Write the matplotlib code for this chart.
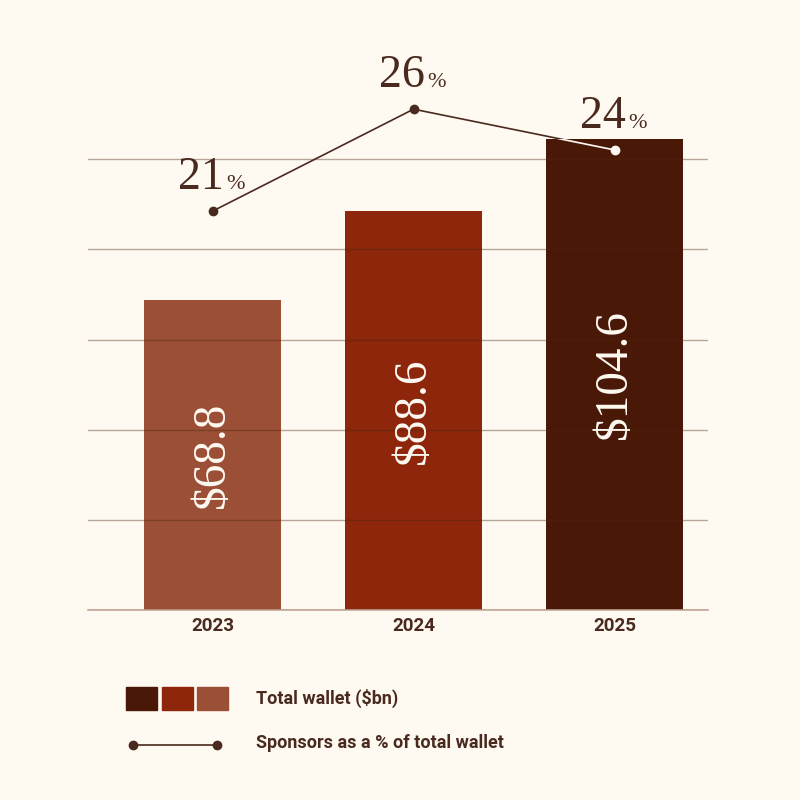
import matplotlib.pyplot as plt
from matplotlib.patches import Rectangle
from matplotlib.lines import Line2D

# data
years = ['2023', '2024', '2025']
wallet = [68.8, 88.6, 104.6]          # total wallet, $bn
sponsor_pct = [21, 26, 24]            # sponsors as % of total wallet
bar_colors = ['#9b4f36', '#8e260c', '#4a1807']

bg = '#fefaf2'
ink = '#4a2a1e'
grid_col = '#4a2a10'
serif = 'Liberation Serif'
sans = 'Roboto'


def plot_wallet():
    fig = plt.figure(figsize=(8, 8), dpi=100, facecolor=bg)
    ax = fig.add_axes([0.11, 0.2375, 0.775, 0.676])
    ax.set_facecolor('none')
    x = list(range(len(years)))

    bars = ax.bar(x, wallet, width=0.68, color=bar_colors, zorder=1)
    ax.set_xlim(-0.62, 2.465)
    ax.set_ylim(0, 120)
    ax.set_yticks([0, 20, 40, 60, 80, 100])
    ax.yaxis.grid(True, color=grid_col, linewidth=1, alpha=0.4, zorder=2)
    ax.axhline(0, color='#c4a898', linewidth=1.2, zorder=2, clip_on=False)
    ax.set_axisbelow(False)
    for s in ax.spines.values():
        s.set_visible(False)

    for xi, v in zip(x, wallet):
        ax.text(xi, v / 2, f'${v}', rotation=90, ha='center', va='center',
                fontfamily=serif, fontsize=34, color=bg, zorder=3)

    # share line on its own scale
    ax2 = ax.twinx()
    ax2.set_ylim(1.44, 27.96)
    ax2.axis('off')
    ax2.plot(x, sponsor_pct, color=ink, linewidth=1.2, marker='o', markersize=6, zorder=4)
    white = ax2.plot(x, sponsor_pct, color=bg, linewidth=1.2, marker='o', markersize=6, zorder=5)[0]
    white.set_clip_path(bars[2])

    ax.tick_params(axis='y', left=False, right=False, labelleft=False, labelright=False)
    ax.tick_params(axis='x', length=0, pad=5)
    ax.set_xticks(x)
    ax.set_xticklabels(years, fontfamily=sans, fontweight='bold', fontsize=13.5, color=ink)

    for xi, p in zip(x, sponsor_pct):
        ax2.annotate(f'{p}', (xi, p), xytext=(8, 16), textcoords='offset points',
                     ha='right', va='baseline', fontfamily=serif, fontsize=33,
                     color=ink, annotation_clip=False)
        ax2.annotate('%', (xi, p), xytext=(10, 16), textcoords='offset points',
                     ha='left', va='baseline', fontfamily=serif, fontsize=16,
                     color=ink, annotation_clip=False)

    # legend drawn in pixel space
    lg = fig.add_axes([0, 0, 1, 1])
    lg.set_xlim(0, 800)
    lg.set_ylim(800, 0)
    lg.axis('off')
    for left, c in zip([126, 162, 197], bar_colors[::-1]):
        lg.add_patch(Rectangle((left, 687), 31, 23, color=c))
    lg.add_line(Line2D([133, 217], [745, 745], color=ink, linewidth=1.2,
                       marker='o', markersize=6))
    lg.text(256, 698, 'Total wallet ($bn)', ha='left', va='center',
            fontfamily=sans, fontweight='bold', fontsize=13, color=ink)
    lg.text(256, 743, 'Sponsors as a % of total wallet', ha='left', va='center',
            fontfamily=sans, fontweight='bold', fontsize=13, color=ink)

    fig.savefig('out.png', dpi=100, facecolor=bg)


if __name__ == "__main__":
    plot_wallet()
